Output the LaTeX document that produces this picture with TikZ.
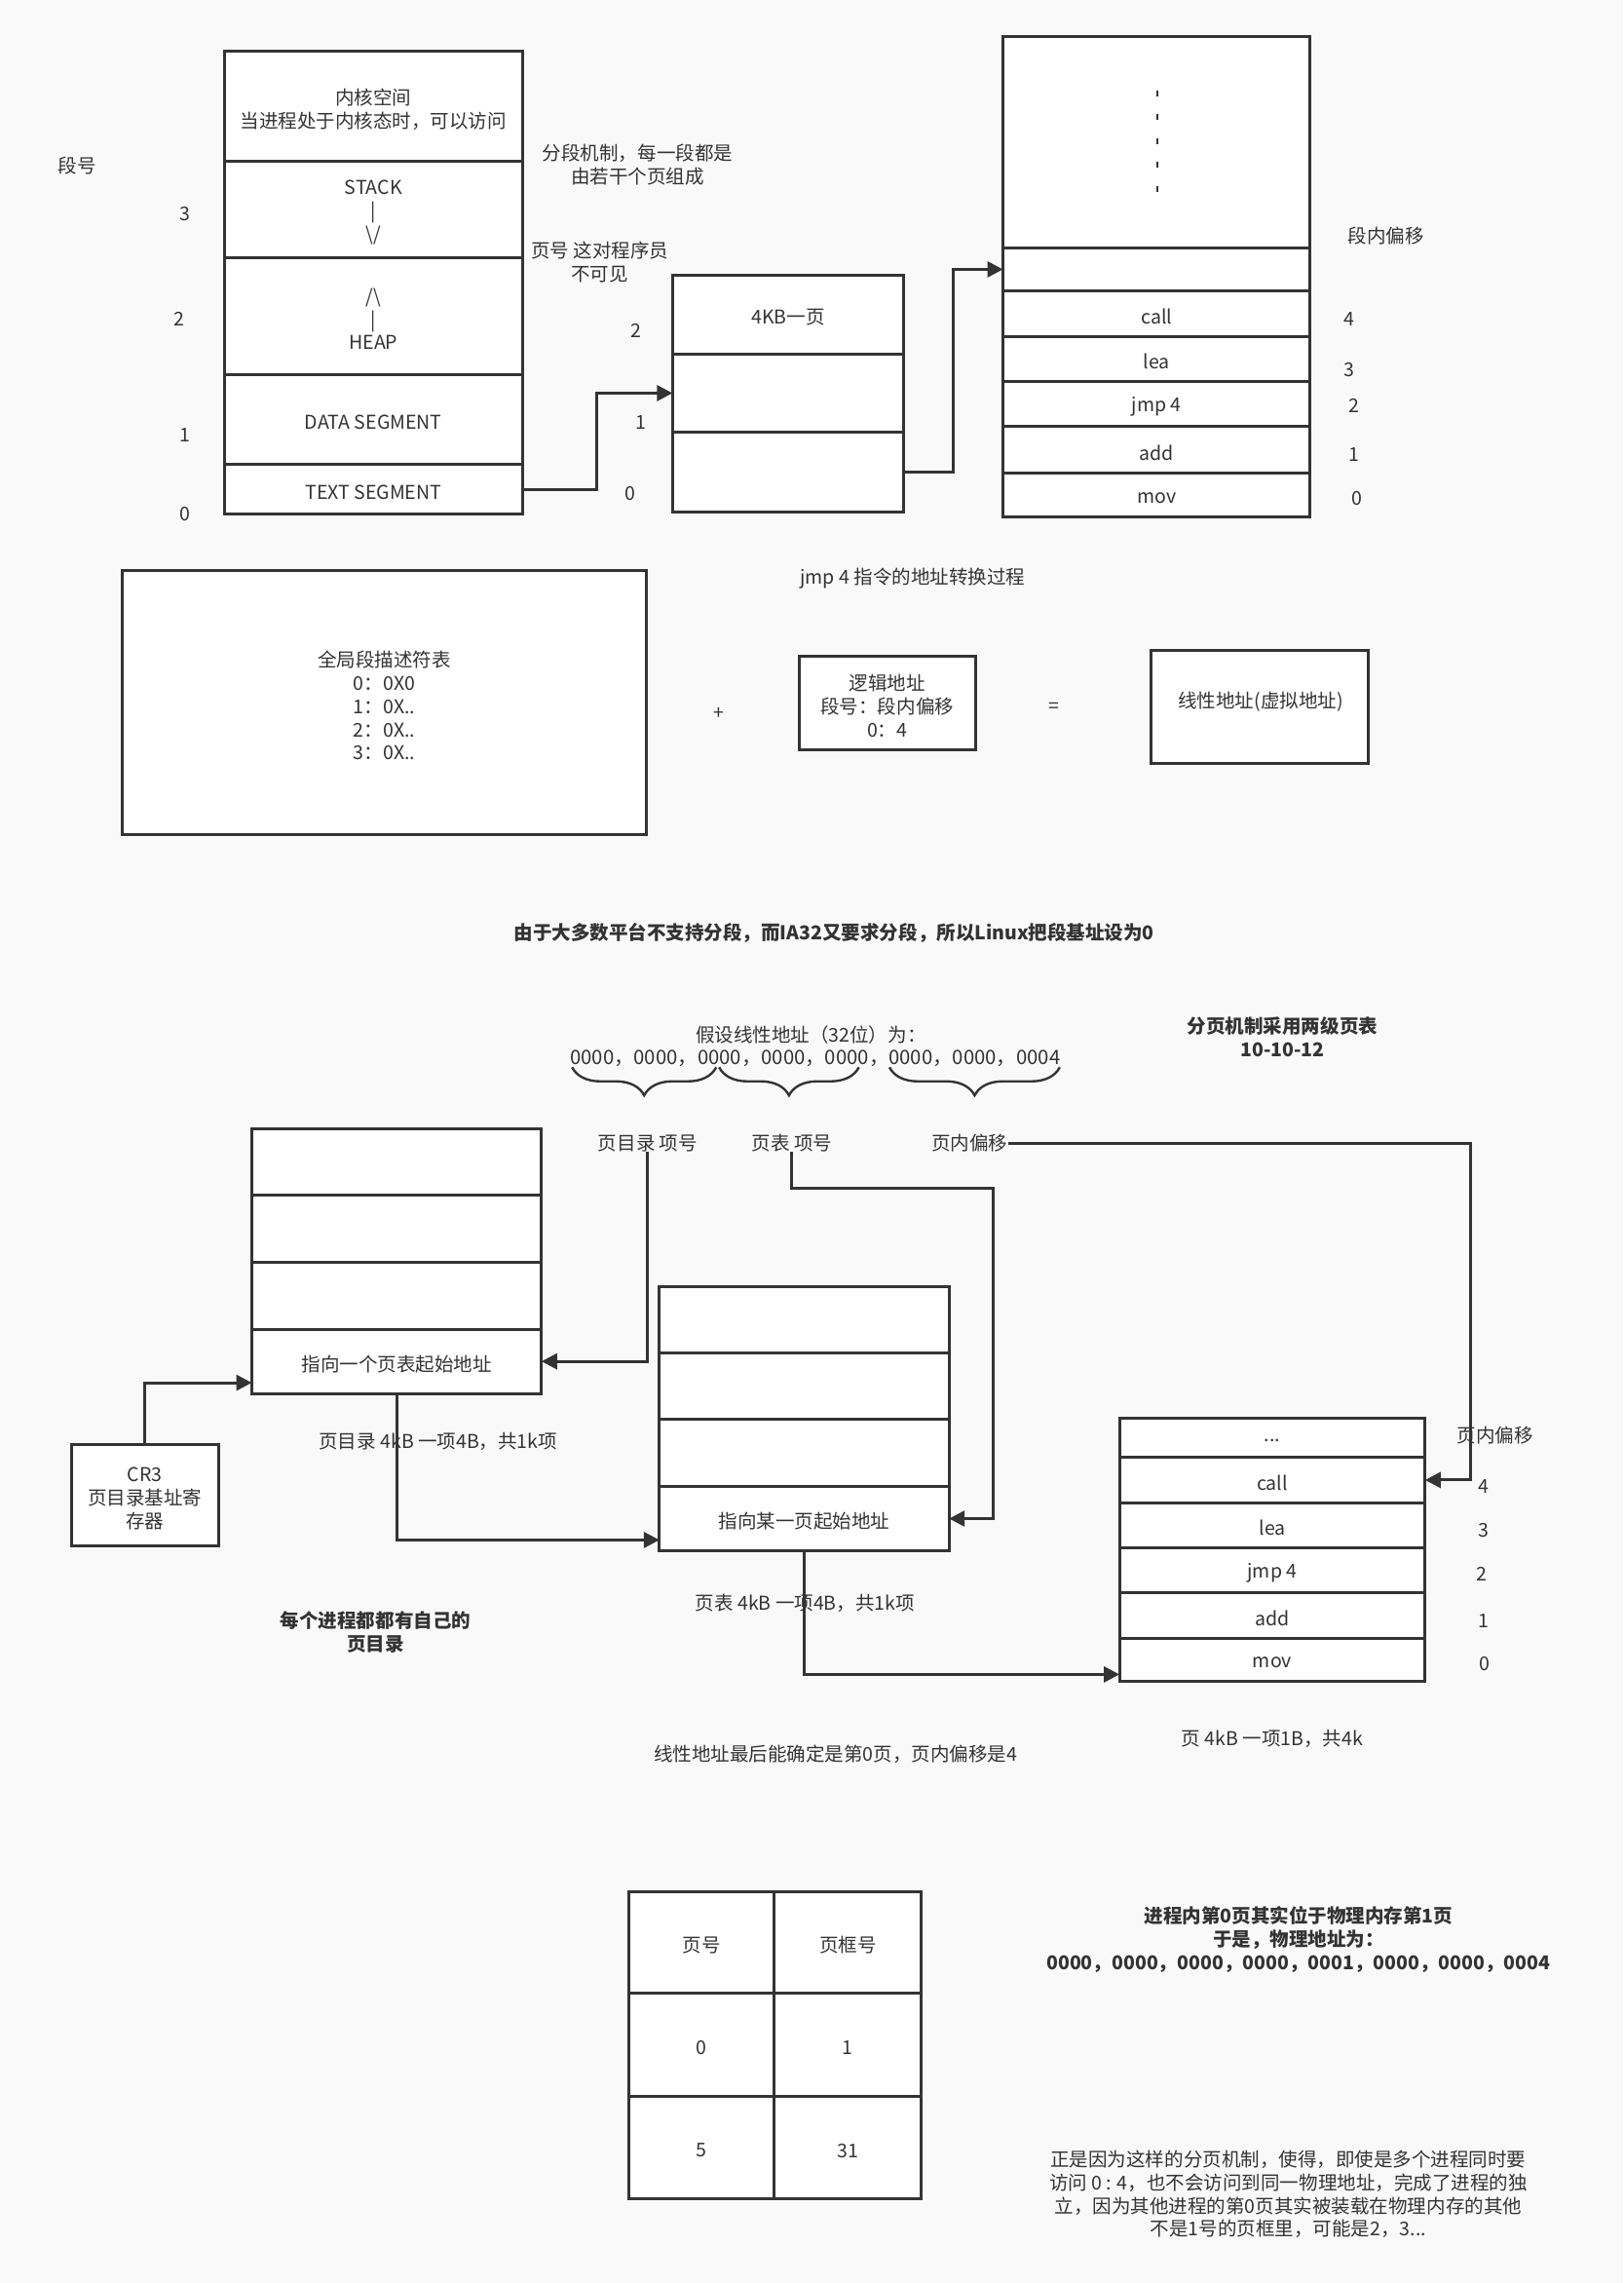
\documentclass[tikz,border=0pt]{standalone}
\usepackage{fontspec}
\setmainfont{Noto Sans CJK SC}
\usetikzlibrary{arrows.meta,decorations.pathreplacing,calc}
\definecolor{ink}{HTML}{333333}
\definecolor{bg}{HTML}{F9F9F9}
\newcommand{\cellat}[6]{\node[cell, minimum width={(#4-#2)*0.75pt}, minimum height={(#5-#3)*0.75pt}] (#1) at ({(#2+#4)/2},{(#3+#5)/2-2}) {};
  \node (#1-t) at (#1.center) {#6};}
\begin{document}
\begin{tikzpicture}[x=0.75pt,y=-0.75pt,
  every node/.style={font=\fontsize{9.8pt}{12pt}\selectfont, text=ink, align=center, inner sep=0pt, yshift=-1.5pt},
  cell/.style={draw=ink, fill=white, line width=1.5pt, inner sep=0pt, outer sep=0pt},
  arr/.style={draw=ink, line width=1.5pt, -{Triangle[length=8pt,width=8pt]}},
  bold/.style={font=\fontsize{9.8pt}{12pt}\selectfont\bfseries},
  brc/.style={draw=ink, line width=1.2pt, decorate, decoration={brace, mirror, amplitude=14.5pt}}]
\fill[bg] (0,0) rectangle (1115,1568);
\useasboundingbox (0,0) rectangle (1115,1568);

% ---------- segmentation: process address space ----------
\cellat{kern}{154}{35}{359}{111}{内核空间\\当进程处于内核态时，可以访问}
\cellat{stack}{154}{111}{359}{177}{STACK\\|\\\textbackslash/}
\cellat{heap}{154}{177}{359}{257}{/\textbackslash\\|\\HEAP}
\cellat{data}{154}{257}{359}{319}{DATA SEGMENT}
\cellat{ts}{154}{319}{359}{353}{TEXT SEGMENT}
\node (segno) at (53,112) {段号};
\node (sn3) at (127,145) {3};
\node (sn2) at (123,217) {2};
\node (sn1) at (127,297) {1};
\node (sn0) at (127,351) {0};
\node (segnote) at (438,111) {分段机制，每一段都是\\由若干个页组成};
\node (pgnote) at (412,178) {页号 这对程序员\\不可见};

% pages of a segment
\cellat{pg2}{462}{189}{621}{243}{4KB一页}
\cellat{pg1}{462}{243}{621}{297}{}
\cellat{pg0}{462}{297}{621}{352}{}
\node (pn2) at (437,225) {2};
\node (pn1) at (440,288) {1};
\node (pn0) at (433,337) {0};

% bytes of a page
\cellat{bigtop}{689}{25}{900}{170}{}
\cellat{bempty}{689}{170}{900}{200}{}
\cellat{bcall}{689}{200}{900}{231}{call}
\cellat{blea}{689}{231}{900}{262}{lea}
\cellat{bjmp}{689}{262}{900}{293}{jmp 4}
\cellat{badd}{689}{293}{900}{325}{add}
\cellat{bmov}{689}{325}{900}{355}{mov}
\foreach \yy in {62,78,95,111,128} \draw[ink, line width=0.6pt] (795,\yy) -- (795,\yy+4);
\node (bofs) at (952,160) {段内偏移};
\node (bo4) at (927,217) {4};
\node (bo3) at (927,252) {3};
\node (bo2) at (930,277) {2};
\node (bo1) at (930,310) {1};
\node (bo0) at (932,340) {0};

\draw[arr] (ts.east) -| (410,300) |- (pg1.west);
\draw[arr] (pg0.east) -| (655,250) |- (bempty.west);

\node (jmpcap) at (627,395) {jmp 4 指令的地址转换过程};

% ---------- address translation ----------
\cellat{gdt}{84}{392}{444}{573}{全局段描述符表\\0：0X0\\1：0X..\\2：0X..\\3：0X..}
\node (plus) at (494,488) {+};
\cellat{logic}{549}{451}{670}{515}{逻辑地址\\段号：段内偏移\\0：4}
\node (eq) at (724,484) {=};
\cellat{linear}{791}{447}{940}{524}{}
\node (lintext) at (866,480) {线性地址(虚拟地址)};
\node[bold] (linuxnote) at (573,639) {由于大多数平台不支持分段，而IA32又要求分段，所以Linux把段基址设为0};

% ---------- paging ----------
\node (assume) at (557,709) {假设线性地址（32位）为：};
\node[font=\fontsize{10.2pt}{12pt}\selectfont] (bits) at (560,725) {0000，0000，0000，0000，0000，0000，0000，0004};
\draw[brc] (393,733) -- (492,733);
\draw[brc] (494,733) -- (590,733);
\draw[brc] (611,733) -- (728,733);
\node[bold] (twolevel) at (881,710) {分页机制采用两级页表\\10-10-12};
\node (pdidx) at (445,783) {页目录 项号};
\node (ptidx) at (544,783) {页表 项号};
\node (pofs) at (666,783) {页内偏移};

% page directory
\cellat{pd1}{173}{775}{372}{821}{}
\cellat{pd2}{173}{821}{372}{867}{}
\cellat{pd3}{173}{867}{372}{913}{}
\cellat{pd4}{173}{913}{372}{957}{指向一个页表起始地址}
\node (pdcap) at (301,988) {页目录 4kB 一项4B，共1k项};
\cellat{cr3}{49}{992}{150}{1062}{CR3\\页目录基址寄\\存器}
\node[bold] (ownpd) at (258,1119) {每个进程都都有自己的\\页目录};

% page table
\cellat{pt1}{453}{884}{652}{929}{}
\cellat{pt2}{453}{929}{652}{975}{}
\cellat{pt3}{453}{975}{652}{1021}{}
\cellat{pt4}{453}{1021}{652}{1065}{指向某一页起始地址}
\node (ptcap) at (553,1099) {页表 4kB 一项4B，共1k项};

% page
\cellat{pdots}{769}{974}{979}{1001}{...}
\cellat{pcall}{769}{1001}{979}{1032}{call}
\cellat{plea}{769}{1032}{979}{1063}{lea}
\cellat{pjmp}{769}{1063}{979}{1094}{jmp 4}
\cellat{padd}{769}{1094}{979}{1125}{add}
\cellat{pmov}{769}{1125}{979}{1155}{mov}
\node (pofs2) at (1027,984) {页内偏移};
\node (po4) at (1019,1019) {4};
\node (po3) at (1019,1049) {3};
\node (po2) at (1018,1079) {2};
\node (po1) at (1019,1111) {1};
\node (po0) at (1020,1141) {0};
\node (pcap) at (874,1192) {页 4kB 一项1B，共4k};
\node (final) at (574,1203) {线性地址最后能确定是第0页，页内偏移是4};

\draw[arr] (cr3.north) |- ([yshift=-11pt]pd4.west);
\draw[arr] (pdidx.south) |- (pd4.east);
\draw[arr] (pd4.south) |- ([yshift=-11pt]pt4.west);
\draw[arr] (ptidx.south) |- (682,816) |- (pt4.east);
\draw[arr] (pt4.south) |- ([yshift=-7.5pt]pmov.west);
\draw[arr] (pofs.east) -| (1010,900) |- (pcall.east);

% ---------- page frame table ----------
\cellat{th1}{432}{1299}{532}{1369}{页号}
\cellat{th2}{532}{1299}{633}{1369}{页框号}
\cellat{ta1}{432}{1369}{532}{1440}{0}
\cellat{ta2}{532}{1369}{633}{1440}{1}
\cellat{tb1}{432}{1440}{532}{1510}{5}
\cellat{tb2}{532}{1440}{633}{1510}{31}
\node[bold] (phys) at (892,1330) {进程内第0页其实位于物理内存第1页\\于是，物理地址为：\\0000，0000，0000，0000，0001，0000，0000，0004};
\node (concl) at (885,1505) {正是因为这样的分页机制，使得，即使是多个进程同时要\\访问 0 : 4，也不会访问到同一物理地址，完成了进程的独\\立，因为其他进程的第0页其实被装载在物理内存的其他\\不是1号的页框里，可能是2，3...};
\end{tikzpicture}
\end{document}
